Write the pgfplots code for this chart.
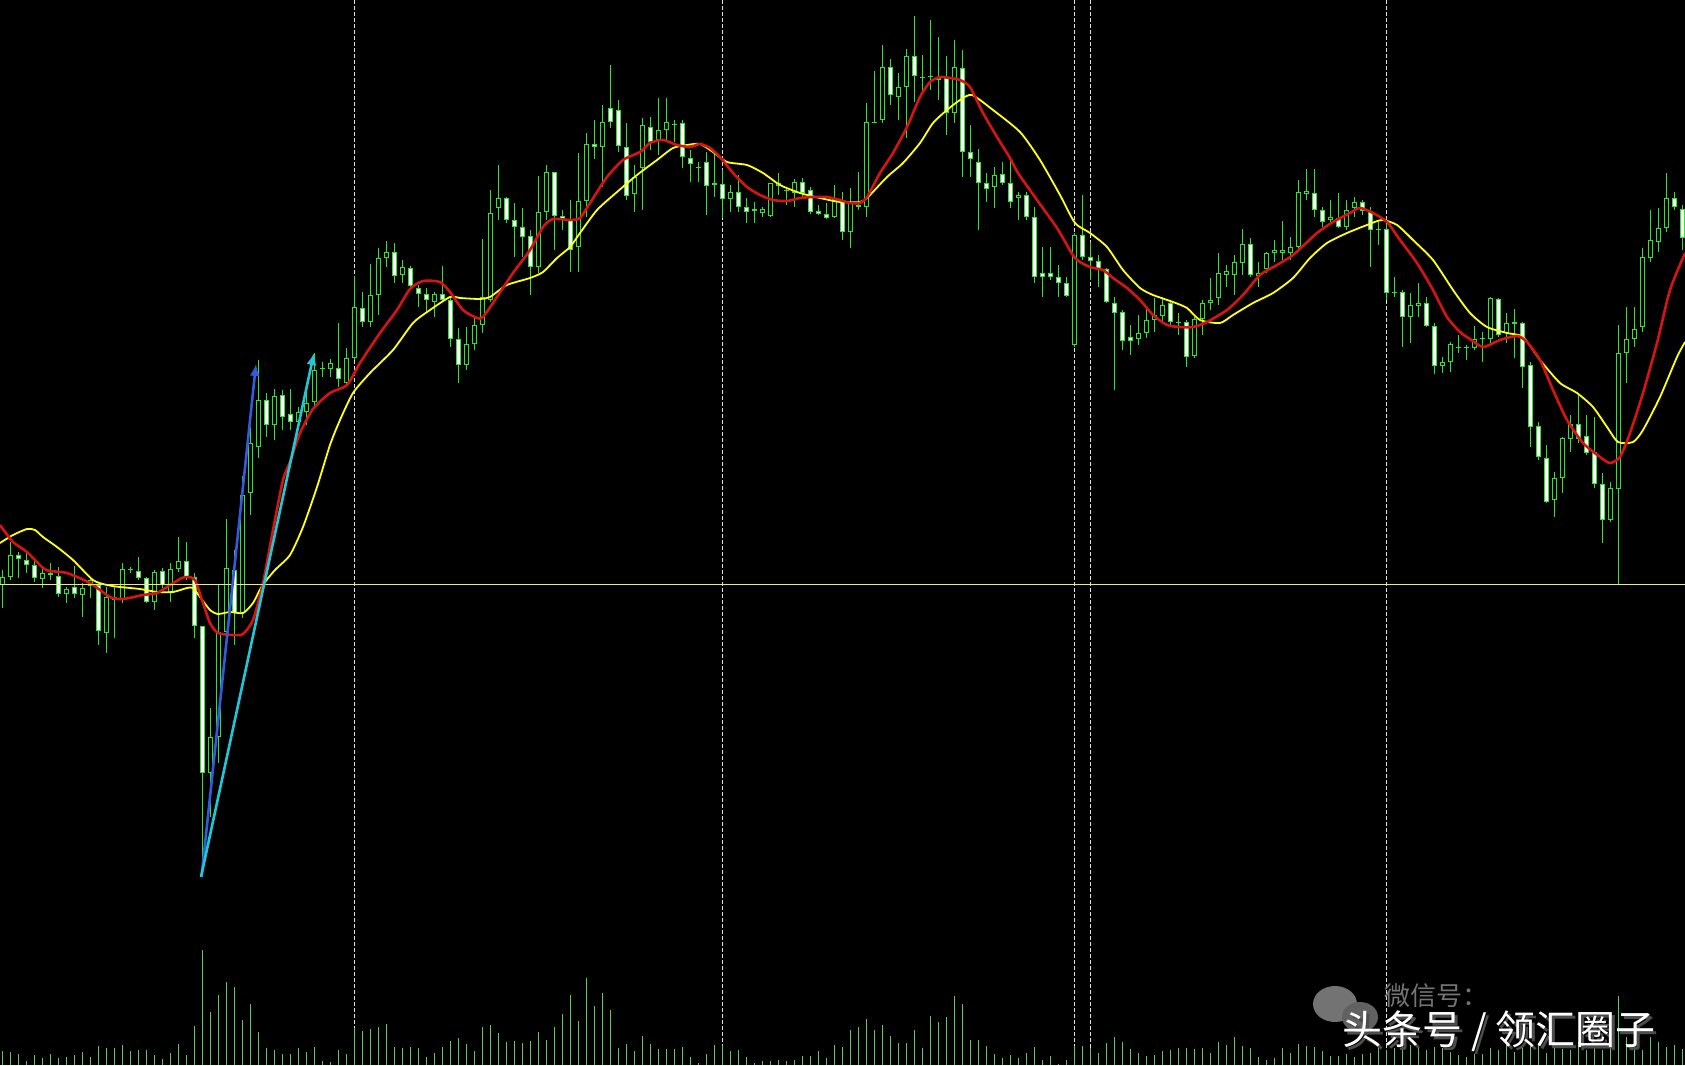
\documentclass[border=0pt]{standalone}
\usepackage{pgfplots}
\pgfplotsset{compat=1.18}
\usepackage{pgfplotstable}
\usepackage{fontspec}
\usetikzlibrary{arrows.meta}
\newfontfamily\cjk{Noto Sans CJK SC}
\definecolor{cg}{RGB}{50,225,50}
\definecolor{vg}{RGB}{95,200,95}
\definecolor{mared}{RGB}{215,20,20}
\definecolor{mayel}{RGB}{255,255,20}
\definecolor{hline}{RGB}{235,235,120}
\definecolor{ablue}{RGB}{50,90,220}
\definecolor{acyan}{RGB}{30,200,215}
\definecolor{sep}{RGB}{225,225,225}

\pgfplotstableread{
i o h l c
0 585 570 608 577
1 577 542 580 555
2 555 552 578 559
3 560 552 573 565
4 565 560 582 578
5 579 568 588 573
6 573 563 580 575
7 576 567 597 594
8 594 587 603 589
9 587 566 598 594
10 595 583 617 588
11 586 578 598 580
12 585 583 645 631
13 633 587 653 597
14 600 587 638 597
15 599 563 603 569
16 569 567 573 570
17 571 557 580 578
18 578 577 603 602
19 602 570 610 572
20 571 568 588 585
21 592 563 602 569
22 569 537 572 561
23 561 542 580 577
24 577 573 638 626
25 626 626 877 773
26 773 708 817 737
27 737 585 763 632
28 632 519 637 568
29 570 550 645 613
30 613 476 618 495
31 493 427 515 443
32 447 360 458 400
33 400 393 437 425
34 425 389 440 396
35 395 390 430 417
36 414 389 430 422
37 422 407 430 412
38 412 393 425 403
39 402 353 407 370
40 368 362 377 369
41 369 359 377 363
42 368 323 387 379
43 383 348 387 358
44 358 276 360 307
45 308 292 327 322
46 322 264 327 295
47 295 248 315 258
48 258 241 267 252
49 252 243 283 276
50 275 260 283 267
51 268 266 288 286
52 288 285 307 294
53 294 288 312 300
54 302 292 317 294
55 294 266 302 300
56 300 297 347 339
57 339 328 383 365
58 365 327 370 344
59 344 316 350 325
60 325 239 333 297
61 300 190 302 213
62 208 165 220 198
63 198 197 223 220
64 220 203 257 227
65 227 208 257 237
66 236 230 295 267
67 267 176 273 212
68 212 165 220 172
69 172 172 250 216
70 216 210 230 220
71 220 200 272 250
72 247 153 272 201
73 201 133 217 144
74 144 120 159 147
75 147 105 187 122
76 108 65 128 122
77 110 100 152 146
78 147 123 200 196
79 194 165 212 177
80 168 118 210 125
81 127 117 150 142
82 140 98 155 130
83 130 98 142 122
84 124 120 142 125
85 123 120 168 157
86 158 150 182 164
87 167 162 182 168
88 162 152 215 186
89 183 153 197 185
90 184 170 218 199
91 199 185 212 192
92 192 175 212 207
93 207 198 223 212
94 209 202 223 211
95 213 207 217 209
96 216 183 217 183
97 186 173 195 183
98 190 187 205 191
99 193 179 207 182
100 182 178 198 193
101 190 187 214 212
102 211 205 215 214
103 214 203 219 218
104 217 185 218 199
105 202 192 240 232
106 232 188 248 202
107 205 172 210 207
108 207 103 217 122
109 122 71 123 123
110 120 45 123 67
111 67 59 105 95
112 97 73 120 87
113 87 49 138 56
114 56 16 102 76
115 77 55 93 78
116 76 20 90 77
117 78 37 100 80
118 78 56 135 113
119 113 40 123 67
120 68 50 177 152
121 152 125 177 159
122 162 149 230 183
123 183 173 202 189
124 187 167 208 175
125 174 162 185 183
126 183 161 208 202
127 198 192 220 195
128 195 192 220 217
129 217 207 283 277
130 273 247 297 277
131 273 247 280 277
132 277 265 297 283
133 283 277 297 296
134 345 233 347 235
135 235 195 260 257
136 257 242 280 261
137 261 255 287 269
138 269 268 303 302
139 303 297 390 313
140 312 310 350 341
141 337 325 355 341
142 339 315 345 333
143 333 308 338 320
144 320 298 332 315
145 316 297 322 305
146 303 300 325 322
147 322 313 335 323
148 322 320 367 357
149 356 317 358 319
150 319 300 335 303
151 303 278 310 300
152 298 253 305 273
153 275 265 287 271
154 275 255 295 262
155 263 229 275 244
156 244 238 277 275
157 276 262 287 273
158 269 252 273 253
159 253 240 262 250
160 253 221 260 250
161 253 237 260 247
162 247 180 250 192
163 194 169 200 191
164 193 169 217 210
165 210 207 227 222
166 220 200 225 217
167 218 193 228 227
168 227 200 230 210
169 208 197 217 202
170 202 200 215 211
171 211 207 267 230
172 229 222 245 230
173 229 224 300 293
174 292 277 297 293
175 292 290 347 317
176 317 293 343 305
177 306 283 317 303
178 303 297 327 326
179 326 323 374 366
180 366 357 373 362
181 362 342 372 344
182 347 335 353 348
183 347 345 360 348
184 348 326 350 339
185 338 332 362 339
186 339 297 343 298
187 299 298 337 335
188 333 313 343 323
189 324 309 358 322
190 323 322 388 367
191 365 362 447 427
192 426 422 460 457
193 458 445 503 502
194 500 472 517 478
195 478 437 493 438
196 439 415 452 424
197 424 395 443 439
198 436 415 455 453
199 452 417 488 484
200 484 473 543 520
201 520 482 522 488
202 489 325 585 353
203 353 307 383 339
204 339 307 347 329
205 327 248 332 257
206 258 210 262 240
207 242 208 252 228
208 228 173 232 198
209 198 192 210 207
210 209 205 250 238
}\candles

\pgfplotstableread{
i v
0 1051
1 1052
2 1054
3 1061
4 1055
5 1058
6 1054
7 1058
8 1057
9 1055
10 1052
11 1057
12 1046
13 1048
14 1048
15 1045
16 1051
17 1050
18 1050
19 1055
20 1059
21 1053
22 1044
23 1055
24 1026
25 950
26 1012
27 995
28 982
29 987
30 1020
31 1004
32 1032
33 1048
34 1050
35 1054
36 1054
37 1048
38 1052
39 1047
40 1061
41 1062
42 1050
43 1054
44 1028
45 1031
46 1029
47 1027
48 1024
49 1047
50 1048
51 1047
52 1048
53 1057
54 1053
55 1047
56 1041
57 1038
58 1044
59 1051
60 1027
61 1025
62 1033
63 1042
64 1041
65 1043
66 1041
67 1032
68 1040
69 1027
70 1014
71 995
72 1021
73 978
74 1006
75 993
76 1010
77 1048
78 1044
79 1051
80 1036
81 1044
82 1049
83 1049
84 1049
85 1047
86 1057
87 1063
88 1054
89 1045
90 1045
91 1051
92 1050
93 1057
94 1063
95 1061
96 1061
97 1060
98 1061
99 1060
100 1056
101 1056
102 1051
103 1058
104 1045
105 1047
106 1030
107 1027
108 1019
109 1030
110 1025
111 1036
112 1043
113 1043
114 1030
115 1048
116 1016
117 1022
118 1017
119 996
120 1004
121 1040
122 1040
123 1046
124 1054
125 1058
126 1055
127 1058
128 1053
129 1047
130 1060
131 1056
132 1064
133 1060
134 1046
135 1046
136 1048
137 1053
138 1043
139 1037
140 1042
141 1049
142 1053
143 1056
144 1055
145 1051
146 1050
147 1048
148 1048
149 1049
150 1048
151 1053
152 1042
153 1045
154 1037
155 1046
156 1048
157 1057
158 1060
159 1058
160 1048
161 1053
162 1044
163 1046
164 1047
165 1051
166 1056
167 1056
168 1054
169 1057
170 1054
171 1053
172 1046
173 1050
174 1048
175 1047
176 1045
177 1048
178 1050
179 1047
180 1048
181 1052
182 1055
183 1057
184 1054
185 1054
186 1048
187 1050
188 1043
189 1052
190 1047
191 1045
192 1044
193 1053
194 1048
195 1049
196 1050
197 1042
198 1050
199 1047
200 1050
201 1045
202 996
203 1037
204 1047
205 1050
206 1037
207 1042
208 1047
209 1045
210 1049
}\volumes

\begin{document}
\begin{tikzpicture}
\fill[black] (0,0) rectangle (842.5pt,532.5pt);
\begin{axis}[
  at={(0,0)}, anchor=south west,
  scale only axis, width=842.5pt, height=532.5pt,
  xmin=0, xmax=1685, ymin=0, ymax=1065, y dir=reverse,
  hide axis, clip=true,
]
% period separators
\addplot[sep, line width=0.5pt, dash pattern=on 2pt off 1pt] coordinates {(354.7,0) (354.7,1065)};
\addplot[sep, line width=0.5pt, dash pattern=on 2pt off 1pt] coordinates {(722.7,0) (722.7,1065)};
\addplot[sep, line width=0.5pt, dash pattern=on 2pt off 1pt] coordinates {(1074.7,0) (1074.7,1065)};
\addplot[sep, line width=0.5pt, dash pattern=on 2pt off 1pt] coordinates {(1090.7,0) (1090.7,1065)};
\addplot[sep, line width=0.5pt, dash pattern=on 2pt off 1pt] coordinates {(1386.7,0) (1386.7,1065)};
% volumes
\addplot[draw=vg, line width=0.5pt, quiver={u=0, v=1065-\thisrow{v}}]
  table[x expr=2.7+8*\thisrow{i}, y=v] {\volumes};
% wicks
\addplot[draw=cg, line width=0.5pt, quiver={u=0, v=\thisrow{l}-\thisrow{h}}]
  table[x expr=2.7+8*\thisrow{i}, y=h] {\candles};
% body outline
\addplot[draw=cg, line width=2.5pt, quiver={u=0, v=\thisrow{c}-\thisrow{o}}]
  table[x expr=2.7+8*\thisrow{i}, y=o] {\candles};
% body inner black
\addplot[draw=black, line width=1.5pt, quiver={u=0, v={max(abs(\thisrow{c}-\thisrow{o})-2,0)}}]
  table[x expr=2.7+8*\thisrow{i}, y expr={min(\thisrow{o},\thisrow{c})+1}] {\candles};
% body inner white (bearish)
\addplot[draw=white, line width=1.5pt, quiver={u=0, v={max(\thisrow{c}-\thisrow{o}-2,0)}}]
  table[x expr=2.7+8*\thisrow{i}, y expr={\thisrow{o}+1}] {\candles};
% slow MA (yellow)
\addplot[mayel, line width=0.9pt, smooth, tension=0.4] coordinates {
(0,543) (13,535) (27,529) (35,530) (43,537) (57,547) (73,560) (93,580) (107,585) (120,587) (140,589) (157,592) (173,592) (187,588) (193,588) (200,597) (210,610) (218,614) (230,612) (243,613) (253,603) (262,586) (275,570) (290,555) (303,527) (317,487) (330,445) (340,420) (353,393) (370,373) (393,350) (413,323) (430,310) (450,297) (460,298) (480,299) (490,297) (507,285) (530,278) (543,272) (557,258) (570,247) (580,233) (597,210) (617,192) (637,175) (657,160) (673,148) (687,145) (700,144) (713,152) (727,162) (747,165) (763,173) (780,185) (800,193) (820,198) (840,202) (860,202) (868,197) (887,177) (903,163) (920,143) (933,123) (947,110) (960,100) (972,95) (993,110) (1020,132) (1040,160) (1060,195) (1075,223) (1090,233) (1107,247) (1123,270) (1140,288) (1153,295) (1173,302) (1187,308) (1200,320) (1220,323) (1233,315) (1253,303) (1273,293) (1293,278) (1310,258) (1327,243) (1347,233) (1367,225) (1382,220) (1397,225) (1413,240) (1433,260) (1453,290) (1470,313) (1487,327) (1507,333) (1523,337) (1540,360) (1560,383) (1577,393) (1593,407) (1607,427) (1618,442) (1633,442) (1643,430) (1660,397) (1677,357) (1685,342)
};
% fast MA (red)
\addplot[mared, line width=1.3pt, smooth, tension=0.4] coordinates {
(0,525) (13,542) (27,552) (43,568) (50,571) (67,573) (90,583) (110,597) (123,599) (143,595) (157,593) (170,585) (182,578) (188,577) (195,580) (203,603) (210,623) (218,633) (233,635) (243,634) (253,620) (263,583) (273,530) (283,480) (290,462) (300,433) (313,409) (330,393) (347,385) (360,363) (380,333) (397,310) (410,289) (423,281) (440,282) (450,292) (463,310) (477,318) (483,317) (497,297) (513,273) (530,250) (543,227) (553,219) (570,220) (580,218) (590,203) (607,177) (623,160) (640,152) (650,143) (663,140) (677,145) (690,147) (700,144) (710,148) (720,157) (733,173) (747,187) (760,195) (773,200) (787,201) (800,198) (813,197) (827,197) (840,200) (850,203) (860,203) (867,197) (880,173) (893,153) (907,127) (920,97) (930,82) (940,77) (950,78) (960,80) (970,87) (983,113) (997,137) (1010,158) (1018,173) (1037,200) (1057,228) (1075,258) (1090,267) (1103,270) (1113,278) (1127,288) (1140,300) (1153,315) (1167,325) (1180,327) (1193,327) (1207,322) (1227,310) (1243,295) (1260,275) (1277,265) (1293,255) (1317,233) (1333,222) (1350,213) (1360,208) (1373,213) (1387,222) (1400,240) (1417,263) (1433,290) (1447,317) (1460,332) (1470,339) (1483,347) (1500,340) (1517,336) (1527,342) (1540,360) (1553,390) (1567,420) (1583,443) (1600,457) (1610,463) (1620,457) (1630,433) (1643,393) (1657,343) (1670,290) (1685,253)
};
% horizontal price line
\addplot[hline, line width=0.5pt] coordinates {(0,584.5) (1685,584.5)};
% arrows
\addplot[ablue, line width=1.3pt, -{Latex[length=6pt,width=5pt]}] coordinates {(201.5,877) (256,364)};
\addplot[acyan, line width=1.3pt, -{Latex[length=6pt,width=5pt]}] coordinates {(201,877) (314,353)};
% watermark
\fill[black!55] (axis cs:1335,1004) ellipse [x radius=11pt, y radius=9pt];
\fill[black!62] (axis cs:1360,1017) ellipse [x radius=9pt, y radius=7.5pt];
\node[anchor=west, text=black!55, font=\cjk\fontsize{13}{13}\selectfont, inner sep=1pt] at (axis cs:1382,996) {微信号：};
\node[text=black!70, font=\cjk\fontsize{20}{20}\selectfont, inner sep=1pt] at ([xshift=1.5pt,yshift=-1.5pt]axis cs:1499,1031) {头条号 / 领汇圈子};
\node[text=white, font=\cjk\fontsize{20}{20}\selectfont, inner sep=1pt] at (axis cs:1499,1031) {头条号 / 领汇圈子};
\end{axis}
\end{tikzpicture}
\end{document}
